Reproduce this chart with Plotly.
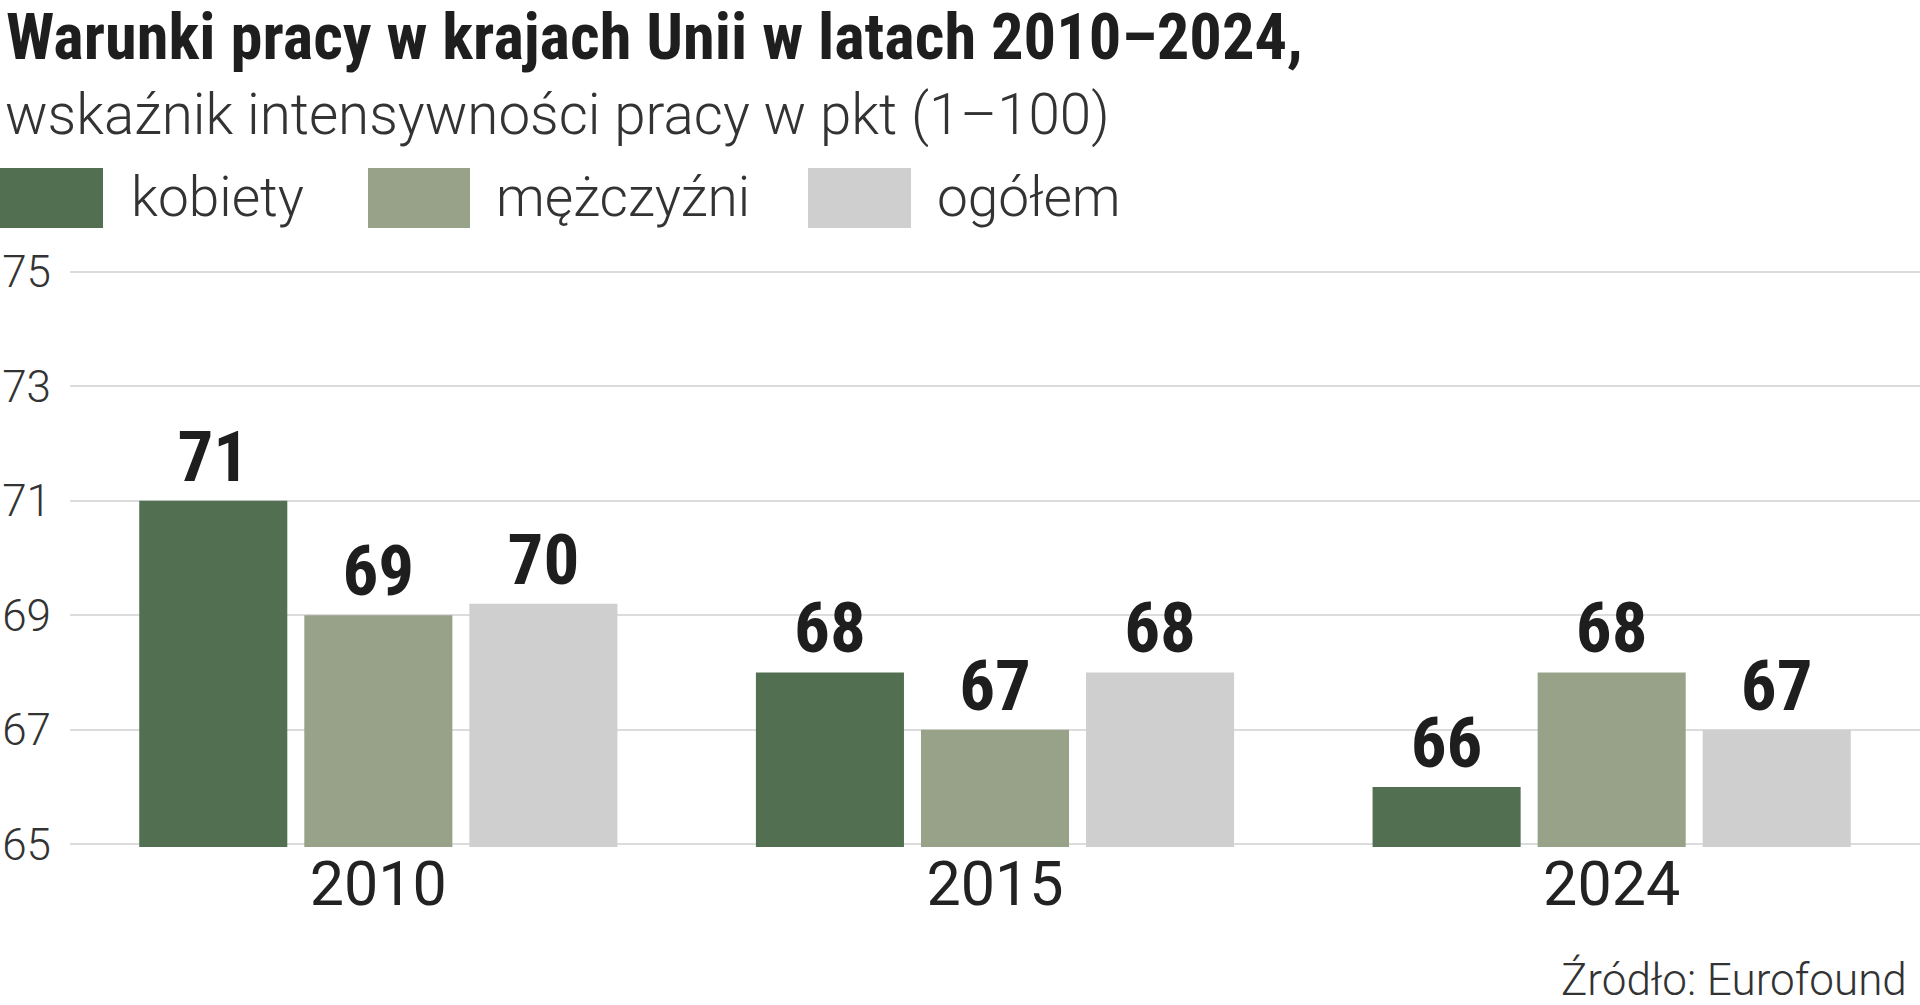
import plotly.graph_objects as go

# ---------------- data ----------------
years = ["2010", "2015", "2024"]
series_names = ["kobiety", "mężczyźni", "ogółem"]
kobiety = [71, 68, 66]
mezczyzni = [69, 67, 68]
ogolem = [69.2, 68, 67]
kobiety_labels = ["71", "68", "66"]
mezczyzni_labels = ["69", "67", "68"]
ogolem_labels = ["70", "68", "67"]
y_ticks = [65, 67, 69, 71, 73, 75]

title_text = "Warunki pracy w krajach Unii w latach 2010–2024,"
subtitle_text = "wskaźnik intensywności pracy w pkt (1–100)"
source_text = "Źródło: Eurofound"

# ---------------- style ----------------
colors = ["#536f51", "#97a289", "#cfcfcf"]
W, H = 1920, 1005
ML, MR, MT, MB = 70, 0, 269, 158
PW, PH = W - ML - MR, H - MT - MB
Y_RANGE = [64.95, 75.05]

COND_BOLD = "Roboto Condensed, Liberation Sans Narrow, DejaVu Sans Condensed, Roboto, sans-serif"
LIGHT = "Roboto, sans-serif"


def px_x(p):
    return (p - ML) / PW


def px_y(p):
    return (H - MB - p) / PH


fig = go.Figure()
for name, vals, labs, col in zip(series_names, [kobiety, mezczyzni, ogolem],
                                 [kobiety_labels, mezczyzni_labels, ogolem_labels], colors):
    fig.add_trace(go.Bar(
        x=years, y=vals, name=name, marker=dict(color=col, line=dict(width=0)),
        text=labs, textposition="outside", cliponaxis=True,
        textfont=dict(family=COND_BOLD, size=71, color="#1e1e1e", weight=700),
        showlegend=False, hoverinfo="skip",
    ))

annotations = [
    dict(text=title_text, x=px_x(5), y=px_y(37), xref="paper", yref="paper",
         xanchor="left", yanchor="middle", showarrow=False, borderpad=0,
         font=dict(family=COND_BOLD, size=64.5, color="#1e1e1e", weight=700)),
    dict(text=subtitle_text, x=px_x(4), y=px_y(115), xref="paper", yref="paper",
         xanchor="left", yanchor="middle", showarrow=False, borderpad=0,
         font=dict(family=LIGHT, size=56.5, color="#333333", weight=300)),
    dict(text=source_text, x=px_x(1908), y=px_y(980), xref="paper", yref="paper",
         xanchor="right", yanchor="middle", showarrow=False, borderpad=0,
         font=dict(family=LIGHT, size=44, color="#333333", weight=300)),
]

# legend drawn as swatches + labels
legend_boxes = [(0, 103), (368, 470), (808, 911)]
legend_text_x = [130, 495, 936]
shapes = []
for (x0, x1), tx, name, col in zip(legend_boxes, legend_text_x, series_names, colors):
    shapes.append(dict(type="rect", xref="paper", yref="paper",
                       x0=px_x(x0), x1=px_x(x1), y0=px_y(228), y1=px_y(168),
                       fillcolor=col, line=dict(width=0), layer="above"))
    annotations.append(dict(text=name, x=px_x(tx), y=px_y(197), xref="paper", yref="paper",
                            xanchor="left", yanchor="middle", showarrow=False, borderpad=0,
                            font=dict(family=LIGHT, size=55, color="#333333", weight=300)))

fig.update_layout(
    width=W, height=H, margin=dict(l=ML, r=MR, t=MT, b=MB, pad=0),
    paper_bgcolor="white", plot_bgcolor="white",
    barmode="group", bargap=0.197, bargroupgap=0.103,
    annotations=annotations, shapes=shapes,
    xaxis=dict(type="category", showgrid=False, showline=False, zeroline=False, ticks="",
               tickfont=dict(family="Roboto, sans-serif", size=61, color="#222222"),
               ticklabelstandoff=-4),
    yaxis=dict(range=Y_RANGE, tickvals=y_ticks, showgrid=True, gridcolor="#dcdcdc", gridwidth=2,
               showline=False, zeroline=False, ticks="",
               tickfont=dict(family=LIGHT, size=44, color="#333333", weight=300),
               ticklabelstandoff=18, layer="below traces"),
)

fig.write_html("out.html", config={"displayModeBar": False},
               post_script="document.body.style.margin='0';document.body.style.overflow='hidden';")
